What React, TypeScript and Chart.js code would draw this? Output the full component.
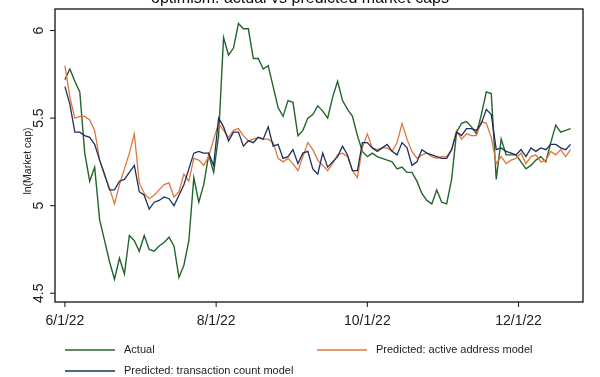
import React, { useEffect, useRef } from "react";
import { Chart, registerables } from "chart.js";

Chart.register(...registerables);

// Day offsets from 6/1/22 (every second day)
const dayOffsets: number[] = Array.from({ length: 103 }, (_, i) => i * 2);

const actual: number[] = [
  5.72, 5.78, 5.71, 5.65, 5.30, 5.14, 5.22, 4.92, 4.80, 4.68,
  4.58, 4.70, 4.61, 4.83, 4.80, 4.74, 4.83, 4.75, 4.74, 4.77,
  4.79, 4.82, 4.77, 4.59, 4.66, 4.80, 5.16, 5.02, 5.12, 5.29,
  5.19, 5.40, 5.96, 5.86, 5.90, 6.04, 6.01, 6.01, 5.84, 5.84,
  5.78, 5.80, 5.68, 5.56, 5.51, 5.60, 5.59, 5.40, 5.43, 5.50,
  5.52, 5.57, 5.54, 5.50, 5.62, 5.71, 5.60, 5.55, 5.51, 5.40,
  5.31, 5.28, 5.30, 5.28, 5.27, 5.26, 5.25, 5.21, 5.22, 5.19,
  5.19, 5.14, 5.07, 5.03, 5.01, 5.09, 5.02, 5.01, 5.15, 5.42,
  5.47, 5.48, 5.45, 5.41, 5.52, 5.65, 5.64, 5.15, 5.38, 5.29,
  5.29, 5.29, 5.25, 5.21, 5.23, 5.26, 5.28, 5.25, 5.36, 5.46,
  5.42, 5.43, 5.44,
];

const predActiveAddress: number[] = [
  5.80, 5.62, 5.50, 5.51, 5.51, 5.49, 5.43, 5.26, 5.17, 5.10,
  5.01, 5.12, 5.21, 5.30, 5.41, 5.13, 5.07, 5.04, 5.06, 5.09,
  5.12, 5.13, 5.05, 5.08, 5.18, 5.14, 5.27, 5.26, 5.23, 5.28,
  5.38, 5.47, 5.43, 5.39, 5.43, 5.44, 5.40, 5.37, 5.38, 5.39,
  5.38, 5.38, 5.36, 5.27, 5.25, 5.27, 5.24, 5.20, 5.28, 5.36,
  5.32, 5.26, 5.23, 5.20, 5.24, 5.29, 5.30, 5.28, 5.20, 5.16,
  5.33, 5.41, 5.33, 5.32, 5.33, 5.33, 5.31, 5.36, 5.47, 5.38,
  5.31, 5.27, 5.29, 5.30, 5.28, 5.27, 5.28, 5.28, 5.32, 5.43,
  5.38, 5.41, 5.40, 5.40, 5.48, 5.47, 5.39, 5.24, 5.28, 5.24,
  5.26, 5.27, 5.30, 5.24, 5.28, 5.29, 5.25, 5.26, 5.31, 5.29,
  5.32, 5.28, 5.32,
];

const predTxCount: number[] = [
  5.68, 5.58, 5.42, 5.42, 5.40, 5.39, 5.35, 5.26, 5.18, 5.09,
  5.09, 5.14, 5.15, 5.19, 5.23, 5.08, 5.06, 4.98, 5.02, 5.03,
  5.05, 5.04, 5.00, 5.06, 5.12, 5.21, 5.30, 5.31, 5.30, 5.30,
  5.23, 5.50, 5.45, 5.37, 5.42, 5.42, 5.34, 5.37, 5.36, 5.39,
  5.38, 5.45, 5.34, 5.35, 5.27, 5.28, 5.32, 5.24, 5.30, 5.31,
  5.21, 5.18, 5.30, 5.22, 5.25, 5.28, 5.34, 5.29, 5.20, 5.20,
  5.36, 5.36, 5.33, 5.31, 5.33, 5.35, 5.31, 5.29, 5.36, 5.33,
  5.23, 5.25, 5.32, 5.30, 5.29, 5.28, 5.27, 5.27, 5.32, 5.42,
  5.40, 5.44, 5.44, 5.43, 5.47, 5.55, 5.52, 5.32, 5.33, 5.31,
  5.30, 5.29, 5.32, 5.28, 5.33, 5.31, 5.33, 5.32, 5.35, 5.35,
  5.33, 5.32, 5.35,
];

const xTickDays: number[] = [0, 61, 122, 183];
const xTickLabels: string[] = ["6/1/22", "8/1/22", "10/1/22", "12/1/22"];
const yTickValues: number[] = [4.5, 5, 5.5, 6];
const yTickLabels: string[] = ["4.5", "5", "5.5", "6"];

const titleText = "optimism: actual vs predicted market caps";
const yTitle = "ln(Market cap)";
const seriesNames = [
  "Actual",
  "Predicted: active address model",
  "Predicted: transaction count model",
];

const GREEN = "#22652a";
const ORANGE = "#e0763a";
const NAVY = "#1c2f5c";
const FONT = "'Liberation Sans', Arial, sans-serif";

const decorPlugin = {
  id: "decor",
  afterDraw(chart: any) {
    const { ctx, chartArea, scales } = chart;
    const { left, top, right, bottom } = chartArea;
    const x = scales.x;
    const y = scales.y;
    ctx.save();
    // frame
    ctx.strokeStyle = "#111";
    ctx.lineWidth = 1.3;
    ctx.strokeRect(left, top, right - left, bottom - top);

    // y ticks + rotated labels
    ctx.fillStyle = "#222";
    ctx.font = `14px ${FONT}`;
    ctx.lineWidth = 1;
    yTickValues.forEach((v, i) => {
      const py = y.getPixelForValue(v);
      ctx.beginPath();
      ctx.moveTo(left - 5, py);
      ctx.lineTo(left, py);
      ctx.stroke();
      ctx.save();
      ctx.translate(left - 16, py);
      ctx.rotate(-Math.PI / 2);
      ctx.textAlign = "center";
      ctx.textBaseline = "middle";
      ctx.fillText(yTickLabels[i], 0, 0);
      ctx.restore();
    });

    // x ticks + labels
    xTickDays.forEach((d, i) => {
      const px = x.getPixelForValue(d);
      ctx.beginPath();
      ctx.moveTo(px, bottom);
      ctx.lineTo(px, bottom + 5);
      ctx.stroke();
      ctx.textAlign = "center";
      ctx.textBaseline = "middle";
      ctx.fillText(xTickLabels[i], px, bottom + 19);
    });

    // y title
    ctx.save();
    ctx.font = `10.5px ${FONT}`;
    ctx.translate(28, 161);
    ctx.rotate(-Math.PI / 2);
    ctx.textAlign = "center";
    ctx.textBaseline = "middle";
    ctx.fillText(yTitle, 0, 0);
    ctx.restore();

    // title (cut off at top)
    ctx.font = `16px ${FONT}`;
    ctx.textAlign = "center";
    ctx.textBaseline = "alphabetic";
    ctx.fillStyle = "#111";
    ctx.fillText(titleText, 300, 3);

    // legend
    const items = [
      { name: seriesNames[0], color: GREEN, x0: 65, y0: 350 },
      { name: seriesNames[1], color: ORANGE, x0: 317, y0: 350 },
      { name: seriesNames[2], color: NAVY, x0: 65, y0: 371 },
    ];
    ctx.font = `11px ${FONT}`;
    ctx.textAlign = "left";
    ctx.textBaseline = "middle";
    items.forEach((it) => {
      ctx.strokeStyle = it.color;
      ctx.lineWidth = 1.5;
      ctx.beginPath();
      ctx.moveTo(it.x0, it.y0);
      ctx.lineTo(it.x0 + 50, it.y0);
      ctx.stroke();
      ctx.fillStyle = "#222";
      ctx.fillText(it.name, it.x0 + 59, it.y0);
    });
    ctx.restore();
  },
};

export default function App() {
  const canvasRef = useRef<HTMLCanvasElement | null>(null);

  useEffect(() => {
    document.body.style.margin = "0";
    const canvas = canvasRef.current;
    if (!canvas) return;
    const mk = (vals: number[]) => dayOffsets.map((d, i) => ({ x: d, y: vals[i] }));
    const chart = new Chart(canvas, {
      type: "line",
      data: {
        datasets: [
          {
            label: seriesNames[0],
            data: mk(actual),
            borderColor: GREEN,
            borderWidth: 1.4,
            pointRadius: 0,
            tension: 0,
            order: 2,
          },
          {
            label: seriesNames[1],
            data: mk(predActiveAddress),
            borderColor: ORANGE,
            borderWidth: 1.3,
            pointRadius: 0,
            tension: 0,
            order: 1,
          },
          {
            label: seriesNames[2],
            data: mk(predTxCount),
            borderColor: NAVY,
            borderWidth: 1.3,
            pointRadius: 0,
            tension: 0,
            order: 0,
          },
        ],
      },
      options: {
        responsive: false,
        animation: false,
        devicePixelRatio: 1,
        layout: { padding: { top: 9, right: 17, left: 0, bottom: 0 } },
        plugins: {
          legend: { display: false },
          title: { display: false },
          tooltip: { enabled: false },
        },
        scales: {
          x: {
            type: "linear",
            min: -4,
            max: 209,
            ticks: { display: false },
            grid: { display: false },
            border: { display: false },
            afterFit: (s: any) => {
              s.height = 75;
            },
          },
          y: {
            type: "linear",
            min: 4.45,
            max: 6.123,
            ticks: { display: false },
            grid: { display: false },
            border: { display: false },
            afterFit: (s: any) => {
              s.width = 55;
            },
          },
        },
      },
      plugins: [decorPlugin],
    });
    return () => chart.destroy();
  }, []);

  return (
    <div style={{ width: 600, height: 377, background: "#fff" }}>
      <canvas ref={canvasRef} width={600} height={377} style={{ display: "block" }} />
    </div>
  );
}
